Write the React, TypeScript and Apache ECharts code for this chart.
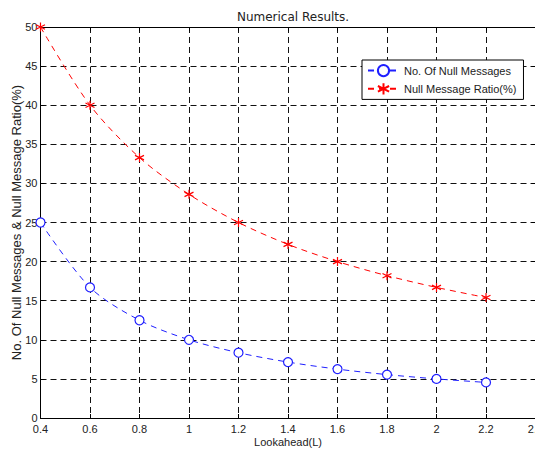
import React, { useEffect, useRef } from "react";
import * as echarts from "echarts";

const lookahead = [0.4, 0.6, 0.8, 1.0, 1.2, 1.4, 1.6, 1.8, 2.0, 2.2];
const nullMessages = [25, 16.7, 12.5, 10, 8.35, 7.15, 6.25, 5.55, 5.0, 4.55];
const nullRatio = [50, 40, 33.3, 28.6, 25, 22.2, 20, 18.2, 16.7, 15.4];
const seriesNames = ["No. Of Null Messages", "Null Message Ratio(%)"];

const FONT = "Liberation Sans, Arial, sans-serif";
const asterisk = "path://M0,-5L0,5M-4.5,-2.5L4.5,2.5M-4.5,2.5L4.5,-2.5";

export default function App() {
  const ref = useRef<HTMLDivElement>(null);
  useEffect(() => {
    const chart = echarts.init(ref.current!, null, { renderer: "svg" });
    const fmt = (v: number) => String(Number(v.toFixed(1)));
    const splitLine = {
      show: true,
      lineStyle: { color: "#111", type: [6, 4], width: 1 },
    };
    const tick = { inside: true, length: 4, lineStyle: { color: "#000" } };
    chart.setOption({
      animation: false,
      backgroundColor: "#fff",
      title: {
        text: "Numerical Results.",
        left: 288,
        textAlign: "center",
        top: 6,
        textStyle: { fontFamily: "DejaVu Sans, sans-serif", fontSize: 12, fontWeight: "normal", color: "#222" },
      },
      grid: { left: 40.5, right: 7.5, top: 27, bottom: 38, outerBoundsMode: "none" },
      legend: {
        orient: "vertical",
        left: 362,
        top: 60,
        itemGap: 5,
        itemWidth: 31,
        itemHeight: 14,
        padding: [4, 7, 4, 5],
        borderColor: "#000",
        borderWidth: 1,
        borderRadius: 0,
        backgroundColor: "#fff",
        textStyle: { fontFamily: FONT, fontSize: 11, color: "#222" },
        data: seriesNames,
      },
      xAxis: [
        {
          type: "value",
          min: 0.4,
          max: 2.4,
          interval: 0.2,
          name: "Lookahead(L)",
          nameLocation: "middle",
          nameGap: 18,
          nameMoveOverlap: false,
          nameTextStyle: { fontFamily: FONT, fontSize: 11, color: "#222" },
          axisLine: { onZero: false, lineStyle: { color: "#000" } },
          axisTick: tick,
          axisLabel: { formatter: fmt, fontFamily: FONT, fontSize: 11, color: "#222", margin: 5 },
          splitLine,
        },
        {
          type: "value",
          position: "top",
          min: 0.4,
          max: 2.4,
          interval: 0.2,
          axisLine: { onZero: false, lineStyle: { color: "#000" } },
          axisTick: tick,
          axisLabel: { show: false },
          splitLine: { show: false },
        },
      ],
      yAxis: [
        {
          type: "value",
          min: 0,
          max: 50,
          interval: 5,
          name: "No. Of Null Messages & Null Message Ratio(%)",
          nameLocation: "middle",
          nameGap: 18,
          nameMoveOverlap: false,
          nameTextStyle: { fontFamily: FONT, fontSize: 13, color: "#222" },
          axisLine: { show: true, lineStyle: { color: "#000" } },
          axisTick: { show: true, ...tick },
          axisLabel: { fontFamily: FONT, fontSize: 11, color: "#222", margin: 3 },
          splitLine,
        },
        {
          type: "value",
          position: "right",
          min: 0,
          max: 50,
          interval: 5,
          axisLine: { show: true, lineStyle: { color: "#000" } },
          axisTick: { show: true, ...tick },
          axisLabel: { show: false },
          splitLine: { show: false },
        },
      ],
      series: [
        {
          name: seriesNames[0],
          type: "line",
          smooth: 0.3,
          data: lookahead.map((x, i) => [x, nullMessages[i]]),
          symbol: "circle",
          symbolSize: 9,
          itemStyle: { color: "#fff", borderColor: "#1f1fff", borderWidth: 1.2 },
          lineStyle: { color: "#1f1fff", width: 1, type: [6, 5] },
        },
        {
          name: seriesNames[1],
          type: "line",
          smooth: 0.3,
          data: lookahead.map((x, i) => [x, nullRatio[i]]),
          symbol: asterisk,
          symbolSize: 9,
          itemStyle: { color: "#ff0000", borderColor: "#ff0000", borderWidth: 1.2 },
          lineStyle: { color: "#ff0000", width: 1, type: [6, 5] },
        },
      ],
    });
    return () => chart.dispose();
  }, []);
  return <div ref={ref} style={{ width: 543, height: 456, margin: -8 }} />;
}
